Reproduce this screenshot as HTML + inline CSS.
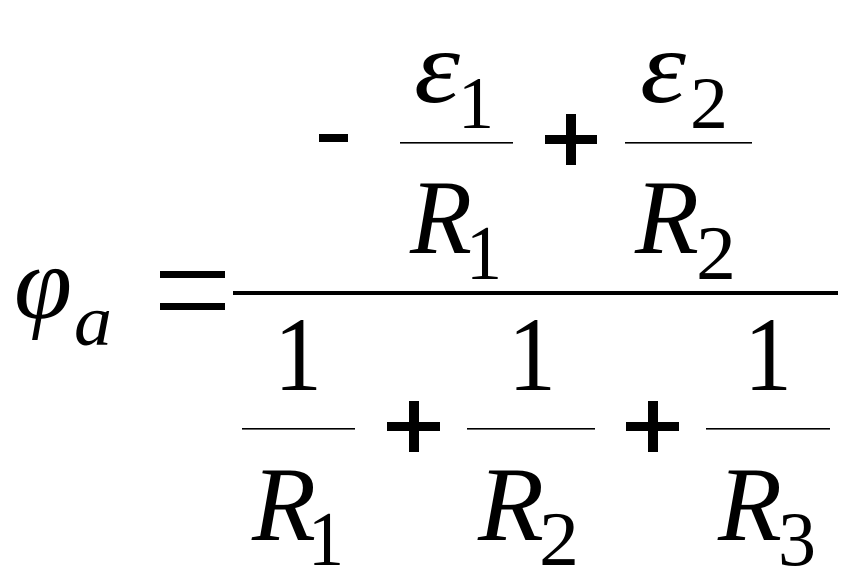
<!DOCTYPE html>
<html><head><meta charset="utf-8"><style>html,body{margin:0;padding:0;background:#fff}svg{display:block}</style></head>
<body>
<svg width="853" height="586" viewBox="0 0 853 586" xmlns="http://www.w3.org/2000/svg" font-family="Liberation Serif, serif" fill="#000">
<!-- phi_a -->
<text x="14" y="318" font-size="104" font-style="italic" textLength="58" lengthAdjust="spacingAndGlyphs">φ</text>
<text x="74" y="345" font-size="72" font-style="italic" textLength="38" lengthAdjust="spacingAndGlyphs">a</text>
<!-- equals -->
<rect x="160" y="271" width="65" height="7"/>
<rect x="160" y="303" width="65" height="7"/>
<!-- main line -->
<rect x="233" y="291" width="605" height="4"/>
<!-- numerator -->
<rect x="319" y="134" width="29" height="8"/>
<text x="414" y="102" font-size="104" font-style="italic" textLength="46" lengthAdjust="spacingAndGlyphs">ε</text>
<text x="458" y="128" font-size="74" textLength="36" lengthAdjust="spacingAndGlyphs">1</text>
<rect x="400" y="142" width="113" height="1.6"/>
<rect x="545" y="135" width="52" height="9"/>
<rect x="566" y="114" width="10" height="51"/>
<text x="640" y="102" font-size="104" font-style="italic" textLength="46" lengthAdjust="spacingAndGlyphs">ε</text>
<text x="690" y="128" font-size="74" textLength="38" lengthAdjust="spacingAndGlyphs">2</text>
<rect x="625" y="142" width="127" height="1.6"/>
<text x="410" y="253" font-size="106" font-style="italic" textLength="62" lengthAdjust="spacingAndGlyphs">R</text>
<text x="466" y="279" font-size="77" textLength="36" lengthAdjust="spacingAndGlyphs">1</text>
<text x="635" y="253" font-size="106" font-style="italic" textLength="64" lengthAdjust="spacingAndGlyphs">R</text>
<text x="696" y="279" font-size="77" textLength="40" lengthAdjust="spacingAndGlyphs">2</text>
<!-- denominator -->
<text x="274" y="390" font-size="106" textLength="48" lengthAdjust="spacingAndGlyphs">1</text>
<rect x="242" y="428" width="113" height="1.6"/>
<rect x="387" y="422" width="53" height="9"/>
<rect x="409" y="401" width="10" height="51"/>
<text x="508" y="390" font-size="106" textLength="48" lengthAdjust="spacingAndGlyphs">1</text>
<rect x="467" y="428" width="128" height="1.6"/>
<rect x="626" y="422" width="53" height="9"/>
<rect x="648" y="401" width="10" height="51"/>
<text x="744" y="390" font-size="106" textLength="48" lengthAdjust="spacingAndGlyphs">1</text>
<rect x="706" y="428" width="124" height="1.6"/>
<text x="252" y="540" font-size="106" font-style="italic" textLength="64" lengthAdjust="spacingAndGlyphs">R</text>
<text x="308" y="565" font-size="77" textLength="36" lengthAdjust="spacingAndGlyphs">1</text>
<text x="478" y="540" font-size="106" font-style="italic" textLength="66" lengthAdjust="spacingAndGlyphs">R</text>
<text x="539" y="565" font-size="77" textLength="40" lengthAdjust="spacingAndGlyphs">2</text>
<text x="718" y="540" font-size="106" font-style="italic" textLength="64" lengthAdjust="spacingAndGlyphs">R</text>
<text x="778" y="565" font-size="77" textLength="38" lengthAdjust="spacingAndGlyphs">3</text>
</svg>
</body></html>
